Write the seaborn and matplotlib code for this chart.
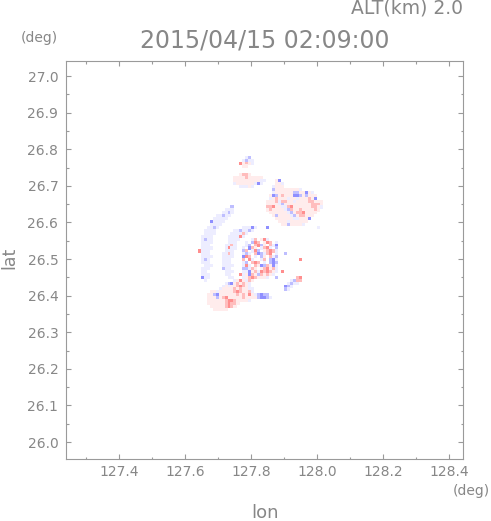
"""
Radar Doppler velocity map, ALT 2.0 km, 2015/04/15 02:09:00.
"""

import matplotlib
matplotlib.use('Agg')

import matplotlib.pyplot as plt
import pandas as pd
import seaborn as sns
from matplotlib.colors import LinearSegmentedColormap
from matplotlib.ticker import MultipleLocator, FormatStrFormatter

sns.set_theme(style='ticks')
plt.rcParams['font.family'] = ['DejaVu Sans']

# grid of the radar cells (deg)
LON0 = 127.63
LAT0 = 26.79
DLON = 0.009
DLAT = 0.008

# velocity class of each letter (m/s, approx.)
VEL_CLASS = {'B': -6.0, 'b': -3.5, 'a': -1.0, 'p': 1.0, 'q': 3.5, 'R': 6.0}

# (row, first column, letters) ; '.' = no echo
CELLS = [
    # small echo to the north
    (1, 17, "ab"), (2, 16, "abaa"), (3, 15, "Rpqpa"), (4, 16, "pp"),
    # band
    (7, 15, "pqqp"), (8, 13, "ppppqppppp"), (9, 13, "pppppppppaa"),
    (10, 13, "appppppaBa"), (11, 15, "aaapa"),
    # north-east blob
    (9, 27, "pB"), (10, 27, "ppa"), (11, 26, "appp"), (12, 26, "bppppppppa"),
    (13, 26, "appppppbbppBpa"), (14, 25, "pBbpqpppBBbpbppp"),
    (15, 25, "apqpppappapppqpB"), (16, 24, "pppqaqqppappppqqppp"),
    (17, 24, "ppppabpppppppppqqqp"), (18, 24, "qqRppaaqRppppppqqpa"),
    (19, 24, "pqppppabqppqppppqp"), (20, 25, "ppppppabpqqRpppp"),
    (21, 26, "pbppppabpqqppp"), (22, 27, "ppppppaapppB"),
    (23, 28, "pppapppppp"), (24, 29, "ppbppppa"), (25, 24, "B"), (25, 41, "a"),
    # outer arc
    (18, 12, "b"), (19, 10, "aaa"), (20, 9, "aaba"), (21, 7, "aabaa"),
    (22, 6, "aaaaa"), (23, 5, "Baaaa"), (24, 5, "aaaa"), (25, 4, "aaba"),
    (26, 3, "aaaa"), (27, 3, "aaaa"), (28, 2, "aaaa"), (29, 2, "abaa"),
    (30, 2, "aaaa"), (31, 2, "aaa"), (32, 2, "aaaa"), (33, 1, "Raaa"),
    (34, 2, "aaa"), (35, 2, "aaaa"), (36, 2, "aba"), (37, 2, "aaa"),
    (38, 3, "aaa"), (39, 2, "aaa"), (40, 2, "aa"), (41, 2, "aaa"),
    (42, 2, "Baa"), (43, 3, "a"),
    # inner arc
    (25, 16, "aaaBa"), (26, 13, "aabaaba"), (27, 12, "aaaaqa"), (28, 11, "aaaaRa"),
    (29, 11, "aaaa"), (30, 11, "aaa"), (31, 10, "aaqa"), (32, 10, "aRaa"),
    (33, 10, "aaa"), (34, 9, "aaqa"), (35, 9, "aaaa"), (36, 9, "aaa"),
    (37, 9, "aaa"), (38, 9, "aaaa"), (39, 9, "baa"), (40, 10, "aaa"),
    (41, 10, "aa"), (42, 11, "aa"),
    # centre
    (29, 19, "aq.pRa"), (30, 17, "a.bRq.pRq.a"), (31, 17, "ab.qRbp.qaB"),
    (32, 16, "a.Bqp.aqRa.b"), (33, 16, "bq.aRb.pqRqa"), (34, 16, "aba.qBbaqR.a"),
    (35, 16, "BRq.a.bp.qab"), (36, 16, "q.Ra..aq.bBa"), (37, 16, "ab.qRq.a.bBb"),
    (38, 16, "aRa.qpBbqpBa"), (39, 16, "bbaqp.pqRpqa"), (40, 16, "aaBpqaRqRqpa"),
    (41, 15, "RapBqpbqpqpa"), (42, 16, "apqRqpppa"),
    (34, 30, "b"), (36, 35, "R"), (40, 29, "R"), (42, 27, "b"),
    # south-east arc
    (42, 34, "qR"), (43, 32, "abqq"), (44, 31, "abaa"), (45, 30, "Bba"), (46, 30, "ba"),
    # south
    (43, 13, "apRpa"), (43, 18, "qp"), (44, 10, "abBpqpqpa"), (45, 9, "apappqRqpa"),
    (46, 8, "appppqpqppaa"), (47, 5, "ppapppppqRqppqa"),
    (48, 4, "ppbBppppppqpqpRpabBbb"), (49, 4, "pppbpqRpppppqppppbBBba"),
    (50, 4, "ppppppqRRqppppa"), (51, 4, "ppppppqRqqp"), (52, 5, "pppppqRqp"),
    (53, 6, "ppppp"),
]

LON_LIM = (127.2394, 128.4424)
LAT_LIM = (25.9536, 27.041)
TITLE = '2015/04/15 02:09:00'
ALT_TEXT = 'ALT(km) 2.0'

GREY = '#878787'


def build_frame():
    rec = []
    for row, col, chars in CELLS:
        for k, ch in enumerate(chars):
            if ch == '.':
                continue
            rec.append({'lon': LON0 + (col + k + 0.5) * DLON,
                        'lat': LAT0 - (row + 0.5) * DLAT,
                        'vel': VEL_CLASS[ch]})
    return pd.DataFrame(rec)


def main():
    df = build_frame()
    cmap = LinearSegmentedColormap.from_list('dop', ['#6a6aff', '#ffffff', '#ff6a6a'])

    fig = plt.figure(figsize=(4.91, 5.21), dpi=100)
    ax = fig.add_axes([66 / 491, 1 - 459 / 521, 397 / 491, 398 / 521])

    sns.scatterplot(data=df, x='lon', y='lat', hue='vel', palette=cmap, hue_norm=(-8, 8),
                    marker='s', s=5.0, linewidth=0, legend=False, ax=ax)

    ax.set_xlim(*LON_LIM)
    ax.set_ylim(*LAT_LIM)
    ax.set_xlabel('')
    ax.set_ylabel('')
    ax.xaxis.set_major_locator(MultipleLocator(0.2))
    ax.xaxis.set_minor_locator(MultipleLocator(0.1))
    ax.yaxis.set_major_locator(MultipleLocator(0.1))
    ax.yaxis.set_minor_locator(MultipleLocator(0.05))
    ax.xaxis.set_major_formatter(FormatStrFormatter('%.1f'))
    ax.yaxis.set_major_formatter(FormatStrFormatter('%.1f'))
    ax.tick_params(which='both', direction='in', top=True, right=True, color='#9a9a9a', width=0.8)
    ax.tick_params(which='major', length=3.6, labelsize=10, labelcolor=GREY)
    ax.tick_params(which='minor', length=1.8)
    ax.tick_params(axis='x', pad=4.5)
    ax.tick_params(axis='y', pad=5.5)
    for sp in ax.spines.values():
        sp.set_color('#9a9a9a')
        sp.set_linewidth(0.8)

    fig.text(463 / 491, 1 - 8 / 521, ALT_TEXT, ha='right', va='center', fontsize=13.5, color=GREY)
    fig.text(265 / 491, 1 - 40 / 521, TITLE, ha='center', va='center', fontsize=17, color=GREY)
    fig.text(39 / 491, 1 - 38 / 521, '(deg)', ha='center', va='center', fontsize=10, color=GREY)
    fig.text(471 / 491, 1 - 491 / 521, '(deg)', ha='center', va='center', fontsize=10, color=GREY)
    fig.text(265 / 491, 1 - 513 / 521, 'lon', ha='center', va='center', fontsize=13, color=GREY)
    fig.text(9 / 491, 1 - 258 / 521, 'lat', ha='center', va='center', fontsize=12.5, color=GREY,
             rotation=90)

    fig.savefig('out.png', dpi=100)
    plt.close(fig)


if __name__ == '__main__':
    main()
